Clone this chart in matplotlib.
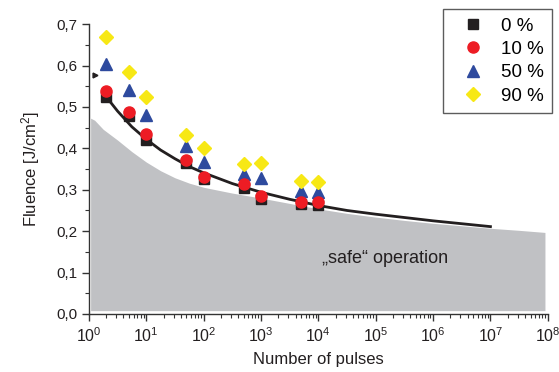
import matplotlib
matplotlib.use("Agg")
import matplotlib.pyplot as plt
from matplotlib.ticker import FixedLocator, LogLocator, FuncFormatter, LogFormatterMathtext, NullFormatter
import numpy as np

plt.rcParams["font.family"] = ["Liberation Sans", "DejaVu Sans"]
plt.rcParams["mathtext.default"] = "regular"

# measured thresholds
pulses = [2, 5, 10, 50, 100, 500, 1000, 5000, 10000]
f_0 = [0.524, 0.478, 0.420, 0.365, 0.325, 0.305, 0.278, 0.265, 0.263]
f_10 = [0.538, 0.488, 0.435, 0.373, 0.330, 0.315, 0.285, 0.270, 0.270]
f_50 = [0.605, 0.540, 0.480, 0.405, 0.368, 0.338, 0.328, 0.298, 0.295]
f_90 = [0.668, 0.585, 0.525, 0.433, 0.400, 0.362, 0.365, 0.320, 0.318]

# fit curve (log10 N, fluence)
fit_logn = [0.3, 0.5, 0.75, 1.0, 1.25, 1.5, 1.75, 2.0, 2.5, 3.0, 3.5, 4.0, 4.5, 5.0, 5.5, 6.0, 6.5, 7.0]
fit_f = [0.525, 0.490, 0.452, 0.422, 0.396, 0.375, 0.356, 0.341, 0.315, 0.294, 0.277, 0.262, 0.250, 0.241, 0.233, 0.225, 0.218, 0.211]

# "safe" region upper boundary (log10 N, fluence)
safe_logn = [0.03, 0.1, 0.25, 0.5, 0.75, 1.0, 1.25, 1.5, 1.75, 2.0, 2.5, 3.0, 3.5, 4.0, 4.5, 5.0, 5.5, 6.0, 6.5, 7.0, 7.5, 7.95]
safe_f = [0.473, 0.468, 0.446, 0.420, 0.392, 0.367, 0.346, 0.329, 0.316, 0.306, 0.292, 0.280, 0.267, 0.254, 0.243, 0.234, 0.226, 0.219, 0.213, 0.207, 0.202, 0.197]

fig = plt.figure(figsize=(5.59, 3.72), dpi=100)
ax = fig.add_axes([0.159, 0.156, 0.821, 0.779])

ax.fill_between(10 ** np.array(safe_logn), 0.008, safe_f, color="#c0c1c4", lw=0, zorder=1)
ax.plot(10 ** np.array(fit_logn), fit_f, color="#231f20", lw=2, zorder=3)

ax.plot(pulses, f_0, "s", color="#231f20", ms=7, ls="none", label="0 %", zorder=4)
ax.plot(pulses, f_10, "o", color="#ed1c24", ms=8, ls="none", label="10 %", zorder=5)
ax.plot(pulses, f_50, "^", color="#2e4a9e", ms=8.5, ls="none", label="50 %", zorder=4)
ax.plot(pulses, f_90, "D", color="#f7e815", ms=7, ls="none", label="90 %", zorder=4)
ax.plot([1.27], [0.577], ">", color="#231f20", ms=3.5, zorder=4)

ax.text(10 ** 5.16, 0.135, "\u201esafe\u201c operation", fontsize=13, color="#231f20",
        ha="center", va="center", zorder=6)

ax.set_xscale("log")
ax.set_xlim(1, 1e8)
ax.set_ylim(0, 0.7)
ax.xaxis.set_major_locator(LogLocator(base=10, numticks=20))
ax.xaxis.set_minor_locator(LogLocator(base=10, subs=np.arange(2, 10), numticks=20))
ax.xaxis.set_major_formatter(LogFormatterMathtext())
ax.xaxis.set_minor_formatter(NullFormatter())
ax.yaxis.set_major_locator(FixedLocator(np.arange(0, 0.71, 0.1)))
ax.yaxis.set_minor_locator(FixedLocator(np.arange(0.05, 0.7, 0.1)))
ax.yaxis.set_major_formatter(FuncFormatter(lambda v, p: f"{v:.1f}".replace(".", ",")))

for s in ("top", "right"):
    ax.spines[s].set_visible(False)
for s in ("left", "bottom"):
    ax.spines[s].set_color("#333333")
    ax.spines[s].set_linewidth(1.0)
ax.tick_params(which="major", direction="out", length=5, width=1, color="#333333",
               labelsize=11, labelcolor="#231f20")
ax.tick_params(axis="x", which="major", labelsize=11.5, pad=4)
ax.tick_params(which="minor", direction="out", length=3, width=0.8, color="#333333")

ax.set_xlabel("Number of pulses", fontsize=12, color="#231f20", labelpad=5)
ax.set_ylabel("Fluence [J/cm$^2$]", fontsize=12, color="#231f20", labelpad=10)

leg = ax.legend(loc="upper right", bbox_to_anchor=(1.009, 1.052), borderaxespad=0,
                fontsize=13.5, frameon=True, fancybox=False, edgecolor="#333333",
                handletextpad=0.35, borderpad=0.45, labelspacing=0.33, handlelength=2.3)
leg.get_frame().set_linewidth(1.0)

fig.savefig("out.png", dpi=100)
